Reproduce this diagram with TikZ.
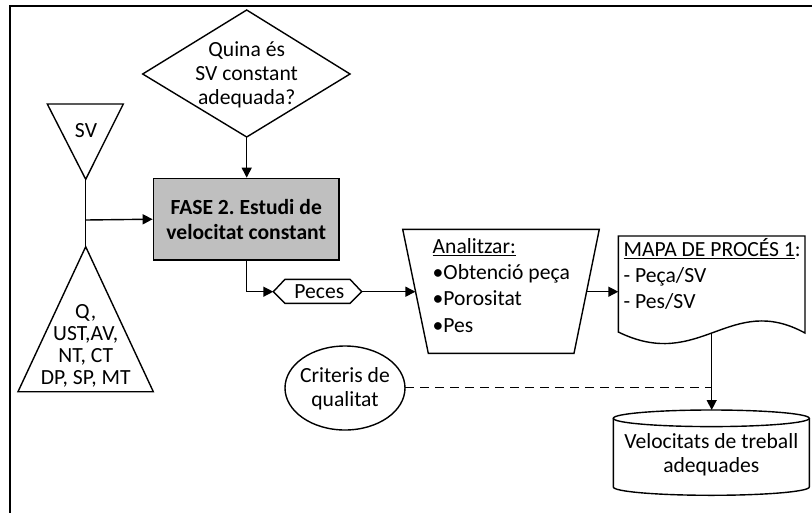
\documentclass[tikz,border=0pt]{standalone}
\usepackage{fontspec}
\setmainfont{Carlito}
\usetikzlibrary{arrows.meta}
\frenchspacing
\begin{document}
\begin{tikzpicture}[x=1pt,y=-1pt,
  shp/.style={draw=black,line width=1.4pt,line join=miter},
  con/.style={draw=black,line width=1.4pt},
  arr/.style={con,-{Triangle[length=10pt,width=10pt]}},
  txt/.style={inner sep=0pt,font=\fontsize{21.6}{24}\selectfont,align=center},
  ltxt/.style={inner sep=0pt,font=\fontsize{21.6}{26.3}\selectfont,align=left,anchor=north west}]
\useasboundingbox (0,0) rectangle (812,512);
\fill[white] (0,0) rectangle (812,512);
% frame
\draw[line width=2pt] (10,6) rectangle (840,540);
% diamond
\draw[shp] (246.7,10) -- (350,74) -- (246.7,137) -- (142.7,74) -- cycle;
\coordinate (qb) at (246.7,137);
\node[txt] (q) at (246.7,75) {Quina és\\SV constant\\adequada?};
% SV triangle
\draw[shp] (47.3,104) -- (123.3,104) -- (85.7,179.3) -- cycle;
\coordinate (sva) at (85.7,179.3);
\node[txt] (sv) at (86,131) {SV};
% lower triangle
\draw[shp] (85.7,246.7) -- (153.3,391.7) -- (18,391.7) -- cycle;
\coordinate (lta) at (85.7,246.7);
\node[txt,font=\fontsize{21.6}{22}\selectfont] (lt) at (85.7,346) {Q,\\UST,AV,\\NT, CT\\DP, SP, MT};
% FASE box
\node[shp,fill=gray!50,minimum width=185.7pt,minimum height=81.7pt,inner sep=0pt,
  font=\fontsize{21.6}{25}\selectfont\bfseries,align=center] (fase) at (246.2,219.2)
  {FASE 2. Estudi de\\velocitat constant};
% Peces hexagon
\draw[shp] (273.3,291.7) -- (285,279.3) -- (350,279.3) -- (361.7,291.7) -- (350,303.3) -- (285,303.3) -- cycle;
\coordinate (pl) at (273.3,291.7);
\coordinate (pr) at (361.7,291.7);
\node[txt] (peces) at (319.3,291.7) {Peces};
% trapezoid
\draw[shp] (402.7,229.3) -- (599.3,229.3) -- (574,353.3) -- (428.3,353.3) -- cycle;
\coordinate (tl) at (415.4,291.7);
\coordinate (tr) at (586.7,291.7);
\node[ltxt] (an) at (432.5,238) {\underline{Analitzar:}\\•Obtenció peça\\•Porositat\\•Pes};
% document
\draw[shp] (618.3,332) -- (618.3,236) -- (805,236) -- (805,333)
  .. controls (730,292) and (700,372) .. cycle;
\coordinate (dl) at (618.3,291.7);
\coordinate (db) at (711.7,332.5);
\node[ltxt] (mapa) at (623.5,238) {\underline{MAPA DE PROCÉS 1}:\\- Peça/SV\\- Pes/SV};
% ellipse
\draw[shp] (345,388) ellipse[x radius=60,y radius=42];
\node[txt] (crit) at (345,389) {Criteris de\\qualitat};
\coordinate (ce) at (405,387.7);
% cylinder
\draw[shp,fill=white] (613.3,418.3) -- (613.3,487) arc[start angle=180,end angle=0,x radius=98,y radius=8.3] -- (809.3,418.3);
\draw[shp] (711.3,418.3) ellipse[x radius=98,y radius=8.3];
\coordinate (cyt) at (711.7,410);
\node[txt] (vel) at (711.3,454.5) {Velocitats de treball\\adequades};
% connectors
\draw[con] (sva) -- (lta);
\draw[arr] (85.7,220) -- (fase.west);
\draw[arr] (qb) -- (qb |- fase.north);
\draw[arr] (fase.south) |- (pl);
\draw[arr] (pr) -- (tl);
\draw[arr] (tr) -- (dl);
\draw[con,dash pattern=on 9pt off 6pt] (ce) -- (711.7,387.7);
\draw[arr] (db) -- (cyt);
\end{tikzpicture}
\end{document}
